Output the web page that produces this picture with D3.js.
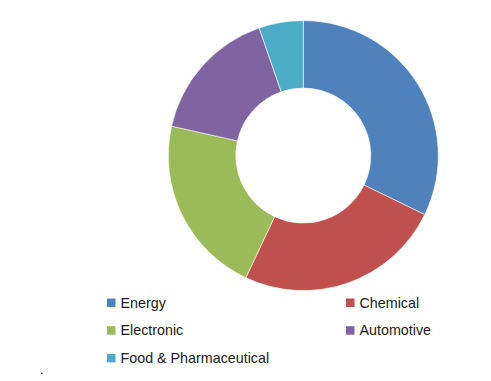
<!DOCTYPE html>
<html>
<head>
<meta charset="utf-8">
<script src="https://cdn.jsdelivr.net/npm/d3@7"></script>
<style>
  body { margin: 0; background: #fff; }
  text { font-family: "Liberation Sans", Arial, sans-serif; }
</style>
</head>
<body>
<div id="chart"></div>
<script>
var categories = ["Energy", "Chemical", "Electronic", "Automotive", "Food & Pharmaceutical"];
var shares = [32.2, 24.8, 21.5, 16.2, 5.3];
var colors = ["#4F81BD", "#C0504D", "#9BBB59", "#8064A2", "#4BACC6"];

var svgWidth = 491, svgHeight = 381;
var cx = 303.3, cy = 155.6, outerR = 135, innerR = 67.5;

var svg = d3.select("#chart").append("svg")
	.attr("width", svgWidth)
	.attr("height", svgHeight);

var data = categories.map(function(c, i) { return { name: c, value: shares[i] }; });

var pie = d3.pie()
	.value(function(d) { return d.value; })
	.sort(null);

var arc = d3.arc()
	.innerRadius(innerR)
	.outerRadius(outerR);

var g = svg.append("g")
	.attr("transform", "translate(" + cx + "," + cy + ")");

g.selectAll("path")
	.data(pie(data))
	.enter().append("path")
	.attr("d", arc)
	.attr("fill", function(d, i) { return colors[i]; })
	.attr("stroke", "#fff")
	.attr("stroke-width", 0.6);

// legend, two columns
var colX = [107, 346], rowY0 = 302.5, rowH = 27.7;

var keys = svg.append("g").attr("class", "legend")
	.selectAll(".key")
	.data(data)
	.enter().append("g")
	.attr("class", "key")
	.attr("transform", function(d, i) {
		return "translate(" + colX[i % 2] + "," + (rowY0 + Math.floor(i / 2) * rowH) + ")";
	});

keys.append("rect")
	.attr("x", 0)
	.attr("y", -4)
	.attr("width", 8.5)
	.attr("height", 8.5)
	.attr("fill", function(d, i) { return colors[i]; });

keys.append("text")
	.attr("x", 13.5)
	.attr("y", 5)
	.attr("font-size", "14.3px")
	.attr("fill", "#1a1a1a")
	.text(function(d) { return d.name; });

svg.append("text")
	.attr("x", 40)
	.attr("y", 374)
	.attr("font-size", "12px")
	.attr("fill", "#000")
	.text(".");
</script>
</body>
</html>
